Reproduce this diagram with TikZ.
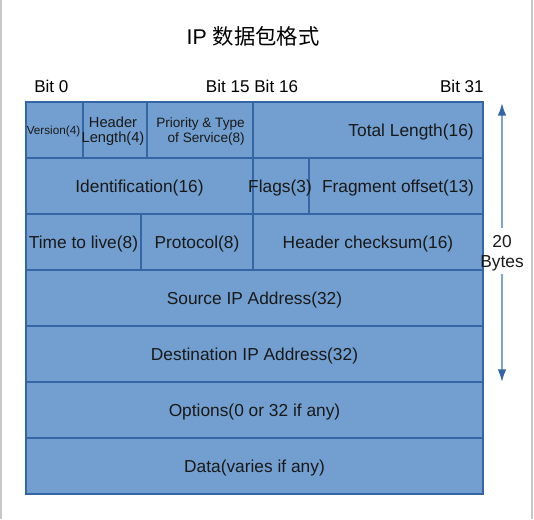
\documentclass[tikz,border=0pt]{standalone}
\usepackage{fontspec}
\setmainfont{Liberation Sans}
\newfontfamily\cjk{Noto Sans CJK SC}
\usetikzlibrary{arrows.meta}
\definecolor{cellfill}{HTML}{729FCF}
\definecolor{celldraw}{HTML}{3465A4}
\definecolor{arrline}{HTML}{7FA3D3}
\definecolor{framegray}{HTML}{C8C8C8}
\begin{document}
\begin{tikzpicture}[x=0.75pt,y=-0.75pt,
  cell/.style={draw=celldraw,fill=cellfill,line width=0.9pt,inner sep=0pt,minimum height=42pt},
  txt/.style={inner sep=0pt,yshift=-1.4pt,font=\fontsize{13pt}{15pt}\selectfont,text=black!90},
  small/.style={inner sep=0pt,yshift=-1pt,font=\fontsize{10.2pt}{11.25pt}\selectfont,text=black!90},
  bitlbl/.style={inner sep=0pt,font=\fontsize{12.8pt}{14pt}\selectfont,text=black}]
\useasboundingbox (0,0) rectangle (534,519);
\draw[framegray,line width=1pt] (1,0) -- (1,519);
\draw[framegray,line width=1pt] (532,0) -- (532,519);
% title
\node[inner sep=0pt,font=\fontsize{16pt}{18pt}\selectfont] (title) at (253,36) {IP {\cjk 数据包格式}};
% bit labels
\node[bitlbl,anchor=west] (b0) at (34,86) {Bit 0};
\node[bitlbl] (b15) at (252,86) {Bit 15 Bit 16};
\node[bitlbl,anchor=east] (b31) at (484,86) {Bit 31};
% row 1
\node[cell,minimum width=57*0.75pt] (ver) at (54.5,130) {};
\node[cell,minimum width=64*0.75pt] (hlen) at (115,130) {};
\node[cell,minimum width=106*0.75pt] (tos) at (200,130) {};
\node[cell,minimum width=230*0.75pt] (tlen) at (368,130) {};
\node[inner sep=0pt,yshift=-1pt,font=\fontsize{8.8pt}{10pt}\selectfont,text=black!90] (verT) at (53.5,130) {Version(4)};
\node[small,align=center,font=\fontsize{11pt}{11.25pt}\selectfont] (hlenT) at (113,130) {Header\\Length(4)};
\node[small,align=right,anchor=east] (tosT) at (245,130) {Priority \& Type\\of Service(8)};
\node[txt,anchor=east] (tlenT) at (474,130) {Total Length(16)};
% row 2
\node[cell,minimum width=227*0.75pt] (ident) at (139.5,186) {};
\node[cell,minimum width=56*0.75pt] (flags) at (281,186) {};
\node[cell,minimum width=174*0.75pt] (frag) at (396,186) {};
\node[txt] (identT) at (ident) {Identification(16)};
\node[txt] (flagsT) at (280,186) {Flags(3)};
\node[txt] (fragT) at (398,186) {Fragment offset(13)};
% row 3
\node[cell,minimum width=115*0.75pt] (ttl) at (83.5,242) {};
\node[cell,minimum width=112*0.75pt] (proto) at (197,242) {};
\node[cell,minimum width=230*0.75pt] (csum) at (368,242) {};
\node[txt] (ttlT) at (ttl) {Time to live(8)};
\node[txt] (protoT) at (proto) {Protocol(8)};
\node[txt] (csumT) at (csum) {Header checksum(16)};
% rows 4-7
\node[cell,minimum width=457*0.75pt] (src) at (254.5,298) {};
\node[cell,minimum width=457*0.75pt] (dst) at (254.5,354) {};
\node[cell,minimum width=457*0.75pt] (opt) at (254.5,410) {};
\node[cell,minimum width=457*0.75pt] (data) at (254.5,466) {};
\node[txt] (srcT) at (src) {Source IP Address(32)};
\node[txt] (dstT) at (dst) {Destination IP Address(32)};
\node[txt] (optT) at (opt) {Options(0 or 32 if any)};
\node[txt] (dataT) at (data) {Data(varies if any)};
% size arrow
\node[txt,align=center,font=\fontsize{13pt}{15pt}\selectfont] (bytes) at (502,251) {20\\Bytes};
\coordinate (atop) at (502,103);
\coordinate (abot) at (502,382);
\draw[arrline,line width=1.3pt,-{Latex[length=9.5pt,width=6.5pt,color=celldraw]}] (502,228) -- (atop);
\draw[arrline,line width=1.3pt,-{Latex[length=9.5pt,width=6.5pt,color=celldraw]}] (502,274) -- (abot);
\end{tikzpicture}
\end{document}
